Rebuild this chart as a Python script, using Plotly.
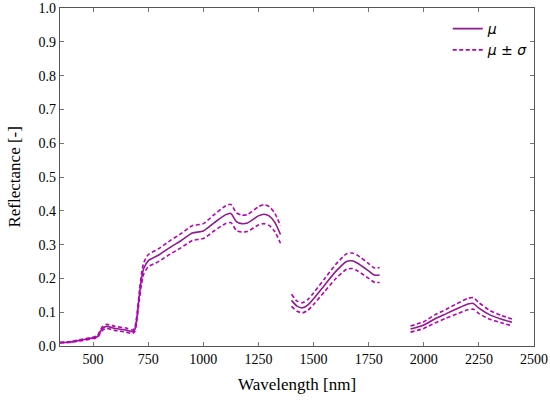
import plotly.graph_objects as go

wl1 = [350, 400, 450, 500, 520, 540, 560, 600, 650, 680, 690, 700, 710, 720, 730, 750,
       800, 850, 900, 950, 1000, 1050, 1100, 1125, 1150, 1175, 1200, 1250, 1275, 1300, 1325, 1350]
mean1 = [0.010, 0.012, 0.018, 0.024, 0.028, 0.050, 0.058, 0.052, 0.047, 0.042, 0.050, 0.090,
         0.150, 0.200, 0.230, 0.252, 0.270, 0.292, 0.312, 0.334, 0.340, 0.365, 0.388, 0.392,
         0.368, 0.362, 0.364, 0.385, 0.390, 0.384, 0.365, 0.330]
std1 = [0.001, 0.001, 0.002, 0.002, 0.003, 0.005, 0.006, 0.006, 0.006, 0.005, 0.006, 0.008,
        0.012, 0.015, 0.017, 0.018, 0.019, 0.020, 0.021, 0.022, 0.022, 0.024, 0.026, 0.027,
        0.026, 0.025, 0.025, 0.027, 0.028, 0.028, 0.027, 0.026]

wl2 = [1400, 1425, 1450, 1475, 1500, 1550, 1600, 1650, 1675, 1700, 1750, 1775, 1800]
mean2 = [0.135, 0.118, 0.113, 0.122, 0.140, 0.180, 0.220, 0.250, 0.252, 0.245, 0.222, 0.210, 0.210]
std2 = [0.018, 0.015, 0.015, 0.016, 0.017, 0.019, 0.021, 0.023, 0.023, 0.023, 0.022, 0.021, 0.022]

wl3 = [1940, 2000, 2050, 2100, 2150, 2200, 2225, 2250, 2300, 2350, 2400]
mean3 = [0.050, 0.062, 0.080, 0.095, 0.110, 0.124, 0.126, 0.112, 0.092, 0.080, 0.070]
std3 = [0.009, 0.010, 0.012, 0.013, 0.015, 0.017, 0.017, 0.016, 0.013, 0.011, 0.010]

x_ticks = [500, 750, 1000, 1250, 1500, 1750, 2000, 2250, 2500]
y_ticks = [0.0, 0.1, 0.2, 0.3, 0.4, 0.5, 0.6, 0.7, 0.8, 0.9, 1.0]

segments = [(wl1, mean1, std1), (wl2, mean2, std2), (wl3, mean3, std3)]
wl, mu, up, lo = [], [], [], []
for w, m, s in segments:
    wl += w + [None]
    mu += m + [None]
    up += [a + b for a, b in zip(m, s)] + [None]
    lo += [a - b for a, b in zip(m, s)] + [None]

SOLID = "#8f1a91"
DASH = "#b800b8"
SERIF = "Liberation Serif"

fig = go.Figure()
fig.add_trace(go.Scatter(x=wl, y=mu, mode="lines", name="<i>μ</i>",
                         line=dict(color=SOLID, width=1.6, shape="spline", smoothing=0.6),
                         connectgaps=False))
fig.add_trace(go.Scatter(x=wl, y=up, mode="lines", name="<i>μ</i> ± <i>σ</i>",
                         line=dict(color=DASH, width=1.6, dash="4px,2.5px", shape="spline", smoothing=0.6),
                         connectgaps=False))
fig.add_trace(go.Scatter(x=wl, y=lo, mode="lines", name="<i>μ</i> ± <i>σ</i>", showlegend=False,
                         line=dict(color=DASH, width=1.6, dash="4px,2.5px", shape="spline", smoothing=0.6),
                         connectgaps=False))

axis_common = dict(showgrid=False, zeroline=False, showline=True, linecolor="#555555", linewidth=1.2,
                   mirror="ticks", ticks="inside", ticklen=4, tickcolor="#777777", automargin=False,
                   tickfont=dict(family=SERIF, size=14, color="black"))

fig.update_xaxes(range=[350, 2500], tickvals=x_ticks, ticktext=[str(v) for v in x_ticks], **axis_common)
fig.update_yaxes(range=[0, 1.0], tickvals=y_ticks, ticktext=[f"{v:.1f}" for v in y_ticks], **axis_common)

fig.add_annotation(text="Wavelength [nm]", xref="paper", yref="paper", x=0.5, y=-0.115,
                   xanchor="center", yanchor="middle", showarrow=False,
                   font=dict(family=SERIF, size=17, color="black"))
fig.add_annotation(text="Reflectance [-]", xref="paper", yref="paper", x=-0.098, y=0.5,
                   xanchor="center", yanchor="middle", textangle=-90, showarrow=False,
                   font=dict(family=SERIF, size=17, color="black"))

fig.update_layout(width=550, height=401, margin=dict(l=60, r=16, t=8, b=55, autoexpand=False),
                  plot_bgcolor="white", paper_bgcolor="white",
                  font=dict(family=SERIF, color="black"),
                  legend=dict(x=0.818, y=0.985, xanchor="left", yanchor="top", bgcolor="rgba(0,0,0,0)",
                              tracegroupgap=0, traceorder="normal",
                              font=dict(family="DejaVu Sans", size=14, color="black")))

fig.write_html("out.html", config={"displayModeBar": False},
               post_script="document.body.style.margin='0';")
